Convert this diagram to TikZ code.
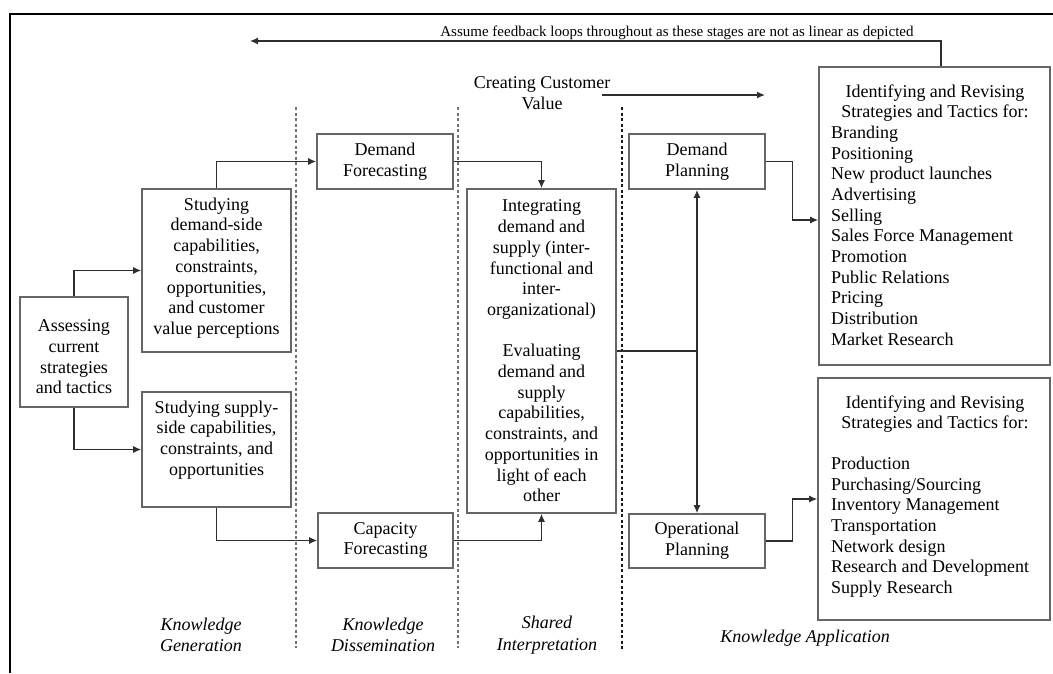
\documentclass[tikz,border=0pt]{standalone}
\usepackage{fontspec}
\setmainfont{Liberation Serif}
\usetikzlibrary{arrows.meta,calc}
\definecolor{boxline}{gray}{0.40}
\definecolor{wireline}{gray}{0.18}
\begin{document}
\begin{tikzpicture}[x=1pt,y=-1pt,
  every node/.style={font=\fontsize{18}{20.7}\selectfont},
  stagebox/.style={draw=boxline, line width=1.6pt, inner sep=0pt, align=center},
  txt/.style={inner sep=0pt, align=center},
  wire/.style={draw=wireline, line width=1.3pt},
  arr/.style={wire, -{Latex[length=8pt,width=7pt]}},
  divider/.style={draw=black!55, line width=1.2pt, dash pattern=on 3pt off 2.5pt},
  phase/.style={inner sep=0pt, font=\fontsize{18}{21.5}\selectfont\itshape, align=center}]
\useasboundingbox (0,0) rectangle (1053,673);
\fill[white] (0,0) rectangle (1053,673);

% outer frame
\draw[line width=2pt] (10,673) -- (10,14) -- (1053,14);

% stage dividers
\draw[divider] (296,107) -- (296,648);
\draw[divider] (458,107) -- (458,648);
\draw[divider, draw=black!90] (622,107) -- (622,650);

% knowledge generation
\node[stagebox, minimum width=108pt, minimum height=110pt] (assess) at (74,352) {};
\node[txt] (assessText) at (74,357) {Assessing\\current\\strategies\\and tactics};
\node[stagebox, minimum width=149pt, minimum height=163pt] (demandSide) at (216.5,270.5) {};
\node[txt] (demandSideText) at (216.5,268) {Studying\\demand-side\\capabilities,\\constraints,\\opportunities,\\and customer\\value perceptions};
\node[stagebox, minimum width=149pt, minimum height=115pt] (supplySide) at (216.5,449.5) {};
\node[txt] (supplySideText) at (216.5,440) {Studying supply-\\side capabilities,\\constraints, and\\opportunities};

% knowledge dissemination
\node[stagebox, minimum width=136pt, minimum height=55pt] (demandFc) at (385,161.5) {Demand\\Forecasting};
\node[stagebox, minimum width=135pt, minimum height=55pt] (capFc) at (385.5,540.5) {Capacity\\Forecasting};

% shared interpretation
\node[stagebox, minimum width=149pt, minimum height=324pt] (integ) at (541.5,351) {};
\node[txt] (integText) at (541.5,351) {Integrating\\demand and\\supply (inter-\\functional and\\inter-\\organizational)\\[20.7pt]Evaluating\\demand and\\supply\\capabilities,\\constraints, and\\opportunities in\\light of each\\other};

% knowledge application
\node[stagebox, minimum width=136pt, minimum height=55pt] (demPlan) at (697,161.5) {Demand\\Planning};
\node[stagebox, minimum width=136pt, minimum height=54pt] (opPlan) at (697,541) {Operational\\Planning};

\node[stagebox, minimum width=231pt, minimum height=298pt] (topRight) at (934.5,216) {};
\node[txt] (topHead) at (935,103) {Identifying and Revising\\Strategies and Tactics for:};
\node[txt, align=left, anchor=north west] (topList) at (831,125.7) {Branding\\Positioning\\New product launches\\Advertising\\Selling\\Sales Force Management\\Promotion\\Public Relations\\Pricing\\Distribution\\Market Research};

\node[stagebox, minimum width=232pt, minimum height=242pt] (botRight) at (934,499) {};
\node[txt] (botHead) at (935,414) {Identifying and Revising\\Strategies and Tactics for:};
\node[txt, align=left, anchor=north west] (botList) at (831,456.7) {Production\\Purchasing/Sourcing\\Inventory Management\\Transportation\\Network design\\Research and Development\\Supply Research};

% headline texts
\node[txt, font=\fontsize{15}{17}\selectfont] (fbText) at (677,32.5) {Assume feedback loops throughout as these stages are not as linear as depicted};
\coordinate (fbEnd) at (250,41);
\node[txt] (ccv) at (542,93.5) {Creating Customer\\Value};
\coordinate (ccvStart) at (602,95);
\coordinate (ccvEnd) at (765,95);

% phase labels
\node[phase] (genLabel) at (201,635) {Knowledge\\Generation};
\node[phase] (disLabel) at (383,635) {Knowledge\\Dissemination};
\node[phase] (shrLabel) at (547,635) {Shared\\Interpretation};
\node[phase] (appLabel) at (805,638) {Knowledge Application};

% connectors
\draw[arr] (assess.north) |- (demandSide.west);
\draw[arr] (assess.south) |- (supplySide.west);
\draw[arr] (demandSide.north) |- (demandFc.west);
\draw[arr] (supplySide.south) |- (capFc.west);
\draw[arr] (demandFc.east) -| (integ.north);
\draw[arr] (capFc.east) -| (integ.south);
\coordinate (junction) at (integ.east -| demPlan.south);
\draw[wire] (integ.east) -- (junction);
\draw[wire, {Latex[length=8pt,width=7pt]}-{Latex[length=8pt,width=7pt]}] (demPlan.south) -- (opPlan.north);
\draw[arr] (demPlan.east) -- ++(27,0) |- ([yshift=-4pt]topRight.west);
\draw[arr] (opPlan.east) -- ++(27,0) |- (botRight.west);
\draw[arr] ([xshift=6.5pt]topRight.north) |- (fbEnd);
\draw[arr] (ccvStart) -- (ccvEnd);
\end{tikzpicture}
\end{document}
